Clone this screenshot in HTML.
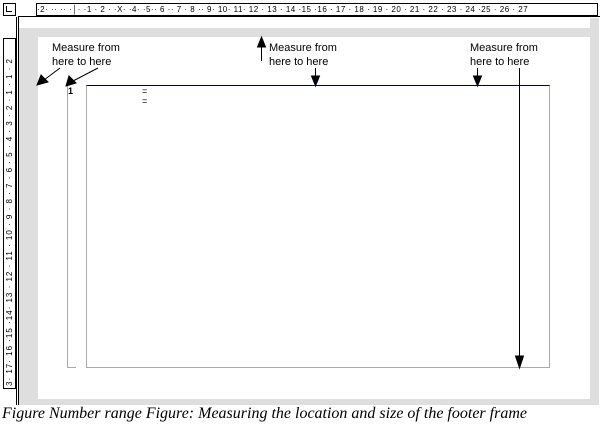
<!DOCTYPE html>
<html><head><style>
body{margin:0;width:604px;height:429px;background:#fff;position:relative;overflow:hidden;font-family:"Liberation Sans",sans-serif}
div{position:absolute;box-sizing:border-box}
.t{font-size:11px;line-height:14px;color:#000;white-space:nowrap}
</style></head><body>
<div style="left:3px;top:3px;width:13px;height:13px;border:1px solid #000"></div>
<div style="left:6px;top:6px;width:6px;height:6px;border-left:1px solid #000;border-bottom:1px solid #000"></div>
<div style="left:36px;top:3px;width:562px;height:13px;border:1px solid #000;font-size:8px;line-height:11px;letter-spacing:0.5px;white-space:nowrap;overflow:hidden">·2· ·· ·· ·│· ·1 · 2 · ·X· ·4· ·5·· 6 ·· 7 · 8 ·· 9· 10· 11· 12 · 13 · 14 ·15 ·16 · 17 · 18 · 19 · 20 · 21 · 22 · 23 · 24 ·25 · 26 · 27</div>
<div style="left:18px;top:16px;width:582px;height:2px;border-top:1px solid #000"></div>
<div style="left:3px;top:38px;width:13px;height:351px;border:1px solid #000"></div>
<div style="left:5px;top:40px;width:10px;height:346px;font-size:8px;line-height:10px;writing-mode:vertical-rl;transform:rotate(180deg);white-space:nowrap;overflow:hidden;letter-spacing:1px">3· 17· 16 ·15 ·14· 13 · 12 · 11 · 10 · 9 · 8 · 7 · 6 · 5 · 4 · 3 · 2 · 1 · 1 · 2</div>
<div style="left:16px;top:17px;width:3px;height:388px;border-left:1px solid #000;border-right:1px solid #000"></div>
<div style="left:19px;top:18px;width:580px;height:387px;background:#dedede"></div>
<div style="left:19px;top:18px;width:571px;height:10px;background:#fff"></div>
<div style="left:38px;top:37px;width:552px;height:362px;background:#fff"></div>
<div style="left:67px;top:85px;width:9px;height:283px;border-left:1px solid #aaa;border-bottom:1px solid #aaa"></div>
<div style="left:86px;top:85px;width:464px;height:283px;border:1px solid #aaa;border-top:1px solid #000050"></div>
<div class="t" style="left:68px;top:84px;font-weight:bold;font-size:9px">1</div>
<div class="t" style="left:142px;top:84px;font-size:9px">=</div>
<div class="t" style="left:142px;top:94px;font-size:9px">=</div>
<div class="t" style="left:52px;top:41px">Measure from</div>
<div class="t" style="left:52px;top:55px">here to here</div>
<div class="t" style="left:269px;top:41px">Measure from</div>
<div class="t" style="left:269px;top:55px">here to here</div>
<div class="t" style="left:470px;top:41px">Measure from</div>
<div class="t" style="left:470px;top:55px">here to here</div>
<svg width="604" height="429" style="position:absolute;left:0;top:0">
<g stroke="#000" stroke-width="1" fill="#000">
<line x1="60" y1="68" x2="44" y2="80"/><polygon points="37,85 41,75 48,82"/>
<line x1="98" y1="68" x2="73" y2="81"/><polygon points="66,86 69,76 76,83"/>
<line x1="261.5" y1="61" x2="261.5" y2="44"/><polygon points="261.5,37 257.5,47 265.5,47"/>
<line x1="315.5" y1="68" x2="315.5" y2="78"/><polygon points="315.5,86 311.5,76 319.5,76"/>
<line x1="477.5" y1="68" x2="477.5" y2="78"/><polygon points="477.5,86 473.5,76 481.5,76"/>
<line x1="519.5" y1="68" x2="519.5" y2="358"/><polygon points="519.5,368 515.5,356 523.5,356"/>
</g></svg>
<div style="left:2px;top:405px;font-family:'Liberation Serif',serif;font-style:italic;font-size:16px;white-space:nowrap;transform-origin:0 0;transform:scaleX(1.0)">Figure Number range Figure: Measuring the location and size of the footer frame</div>
</body></html>
